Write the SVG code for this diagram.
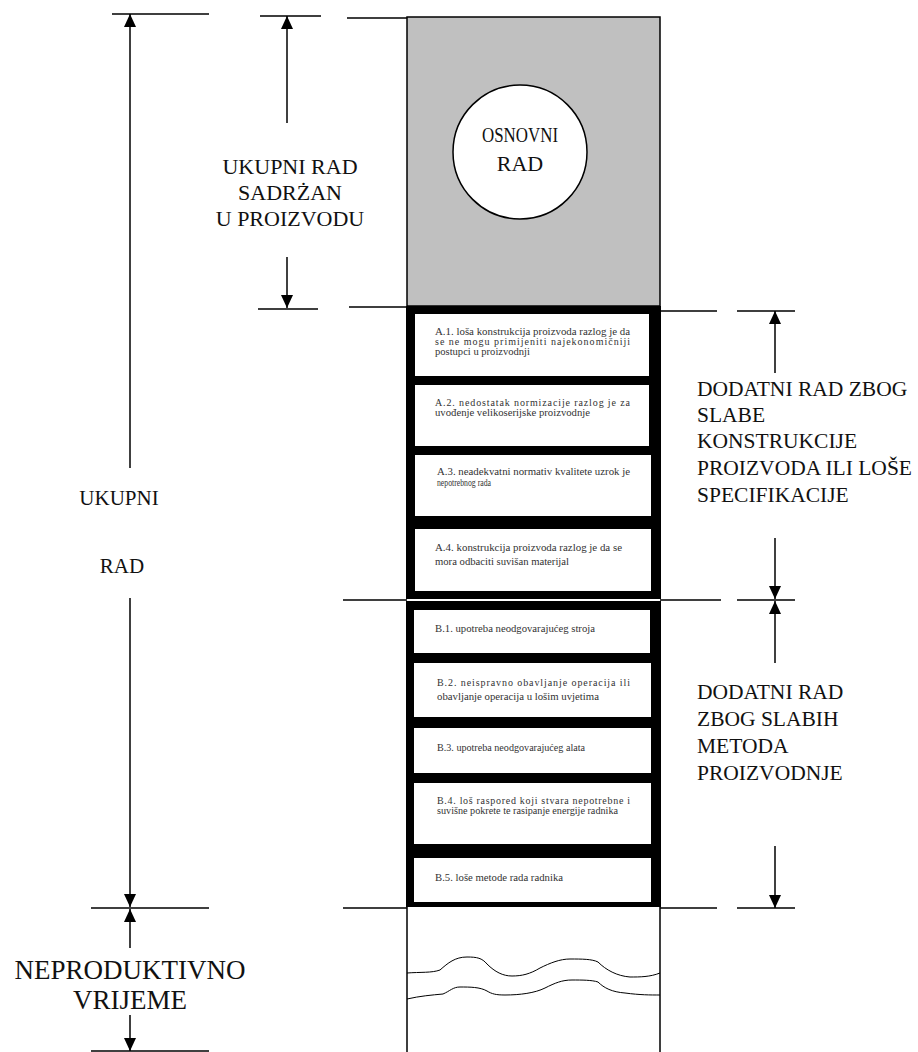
<svg xmlns="http://www.w3.org/2000/svg" width="918" height="1052" viewBox="0 0 918 1052">
<style>
.ln{stroke:#000;stroke-width:1.5;fill:none}
.thin{stroke:#000;stroke-width:1;fill:none}
.big{font-family:"Liberation Serif","Times New Roman",serif;font-size:27px;fill:#111}
.lft{font-family:"Liberation Serif","Times New Roman",serif;font-size:21px;fill:#111}
.mid{font-family:"Liberation Serif","Times New Roman",serif;font-size:22px;fill:#111}
.rt{font-family:"Liberation Serif","Times New Roman",serif;font-size:21.5px;fill:#111}
.sm{font-family:"Liberation Serif","Times New Roman",serif;font-size:10px;fill:#333}
.box{fill:#fff;stroke:none}
</style>
<defs>
<marker id="ah" markerUnits="userSpaceOnUse" markerWidth="14" markerHeight="12" refX="13" refY="6" orient="auto-start-reverse">
<path d="M0,0 L13,6 L0,12 z" fill="#000"/>
</marker>
</defs>

<g id="column-top">
<rect x="407" y="17" width="253" height="289" fill="#c0c0c0" stroke="#000" stroke-width="1.5"/>
</g>
<g id="osnovni-rad">
<circle cx="520" cy="152" r="67" fill="#fff" stroke="#000" stroke-width="1.5"/>
<text class="mid" x="520" y="142" text-anchor="middle" textLength="76" lengthAdjust="spacingAndGlyphs">OSNOVNI</text>
<text class="mid" x="520" y="171" text-anchor="middle">RAD</text>
</g>

<g id="block-a">
<rect x="406" y="306" width="255" height="293" fill="#000"/>
</g>
<g id="block-b">
<rect x="406" y="601" width="255" height="306" fill="#000"/>
</g>

<g id="A1">
<rect class="box" x="415" y="314" width="234" height="62"/>
<text class="sm" x="435" y="335" textLength="195" lengthAdjust="spacingAndGlyphs">A.1. loša konstrukcija proizvoda razlog je da</text>
<text class="sm" x="435" y="345" textLength="195">se ne mogu primijeniti najekonomičniji</text>
<text class="sm" x="435" y="355" textLength="95" lengthAdjust="spacingAndGlyphs">postupci u proizvodnji</text>
</g>
<g id="A2">
<rect class="box" x="415" y="385" width="234" height="61"/>
<text class="sm" x="435" y="406" textLength="195">A.2. nedostatak normizacije razlog je za</text>
<text class="sm" x="435" y="416" textLength="155" lengthAdjust="spacingAndGlyphs">uvođenje velikoserijske proizvodnje</text>
</g>
<g id="A3">
<rect class="box" x="415" y="455" width="236" height="61"/>
<text class="sm" x="437" y="475" textLength="193" lengthAdjust="spacingAndGlyphs">A.3. neadekvatni normativ kvalitete uzrok je</text>
<text class="sm" x="437" y="486" textLength="54" lengthAdjust="spacingAndGlyphs">nepotrebnog rada</text>
</g>
<g id="A4">
<rect class="box" x="415" y="529" width="236" height="62"/>
<text class="sm" x="435" y="551" textLength="187" lengthAdjust="spacingAndGlyphs">A.4. konstrukcija proizvoda razlog je da se</text>
<text class="sm" x="435" y="565" textLength="134" lengthAdjust="spacingAndGlyphs">mora odbaciti suvišan materijal</text>
</g>

<g id="B1">
<rect class="box" x="414" y="610" width="236" height="43"/>
<text class="sm" x="435" y="632" textLength="160" lengthAdjust="spacingAndGlyphs">B.1. upotreba neodgovarajućeg stroja</text>
</g>
<g id="B2">
<rect class="box" x="414" y="663" width="237" height="54"/>
<text class="sm" x="437" y="686" textLength="193">B.2. neispravno obavljanje operacija ili</text>
<text class="sm" x="437" y="700" textLength="162" lengthAdjust="spacingAndGlyphs">obavljanje operacija u lošim uvjetima</text>
</g>
<g id="B3">
<rect class="box" x="414" y="728" width="237" height="45"/>
<text class="sm" x="437" y="751" textLength="148" lengthAdjust="spacingAndGlyphs">B.3. upotreba neodgovarajućeg alata</text>
</g>
<g id="B4">
<rect class="box" x="414" y="783" width="237" height="61"/>
<text class="sm" x="437" y="804" textLength="193">B.4. loš raspored koji stvara nepotrebne i</text>
<text class="sm" x="437" y="814" textLength="181" lengthAdjust="spacingAndGlyphs">suvišne pokrete te rasipanje energije radnika</text>
</g>
<g id="B5">
<rect class="box" x="414" y="858" width="237" height="44"/>
<text class="sm" x="435" y="881" textLength="128" lengthAdjust="spacingAndGlyphs">B.5. loše metode rada radnika</text>
</g>

<g id="column-bottom">
<path class="ln" d="M407,907 V1052 M660,907 V1052"/>
<path class="thin" d="M407,973 C420,972 432,973 440,970 C448,963 455,957 467,957 C477,957 482,958 487,964 C495,972 503,976 512,976 C522,976 530,974 540,968 C550,963 560,959 570,959 C582,959 592,959 598,962 C606,970 617,976 630,977 C640,977 650,977 660,973"/>
<path class="thin" d="M407,999 C420,996 432,995 443,994 C450,991 453,987 460,987 C470,987 480,987 487,991 C492,994 496,995 505,995 C520,995 535,993 545,988 C555,983 562,980 572,980 C582,980 592,980 598,982 C604,988 612,992 625,993 C640,995 650,995 660,995"/>
</g>

<g id="connectors">
<path class="ln" d="M112,14 H209 M260,16 H321 M347,18 H407"/>
<path class="ln" d="M258,309 H318 M349,307 H407"/>
<path class="ln" d="M660,311 H717 M737,311 H795"/>
<path class="ln" d="M343,600 H407 M660,600 H721 M737,600 H795"/>
<path class="ln" d="M91,908 H209 M343,908 H407 M660,908 H717 M737,908 H795"/>
<path class="ln" d="M91,1051 H209"/>

<path class="ln" d="M130,468 V14" marker-end="url(#ah)"/>
<path class="ln" d="M130,598 V907" marker-end="url(#ah)"/>
<path class="ln" d="M130,948 V909" marker-end="url(#ah)"/>
<path class="ln" d="M130,1015 V1051" marker-end="url(#ah)"/>

<path class="ln" d="M287,123 V16" marker-end="url(#ah)"/>
<path class="ln" d="M287,257 V308" marker-end="url(#ah)"/>

<path class="ln" d="M775,373 V311" marker-end="url(#ah)"/>
<path class="ln" d="M775,538 V599" marker-end="url(#ah)"/>
<path class="ln" d="M775,663 V601" marker-end="url(#ah)"/>
<path class="ln" d="M775,846 V908" marker-end="url(#ah)"/>
</g>

<g id="label-ukupni-rad">
<text class="lft" x="119" y="505" text-anchor="middle">UKUPNI</text>
<text class="lft" x="122" y="573" text-anchor="middle">RAD</text>
</g>
<g id="label-neproduktivno">
<text class="big" x="130" y="979" text-anchor="middle">NEPRODUKTIVNO</text>
<text class="big" x="130" y="1009" text-anchor="middle">VRIJEME</text>
</g>
<g id="label-sadrzan">
<text class="mid" x="290" y="174" text-anchor="middle">UKUPNI RAD</text>
<text class="mid" x="290" y="200" text-anchor="middle">SADRŻAN</text>
<text class="mid" x="290" y="226" text-anchor="middle">U PROIZVODU</text>
</g>
<g id="label-dodatni-a">
<text class="rt" x="697" y="396">DODATNI RAD ZBOG</text>
<text class="rt" x="697" y="422">SLABE</text>
<text class="rt" x="697" y="448">KONSTRUKCIJE</text>
<text class="rt" x="697" y="475">PROIZVODA ILI LOŠE</text>
<text class="rt" x="697" y="502">SPECIFIKACIJE</text>
</g>
<g id="label-dodatni-b">
<text class="rt" x="697" y="699">DODATNI RAD</text>
<text class="rt" x="697" y="726">ZBOG SLABIH</text>
<text class="rt" x="697" y="753">METODA</text>
<text class="rt" x="697" y="780">PROIZVODNJE</text>
</g>
</svg>
